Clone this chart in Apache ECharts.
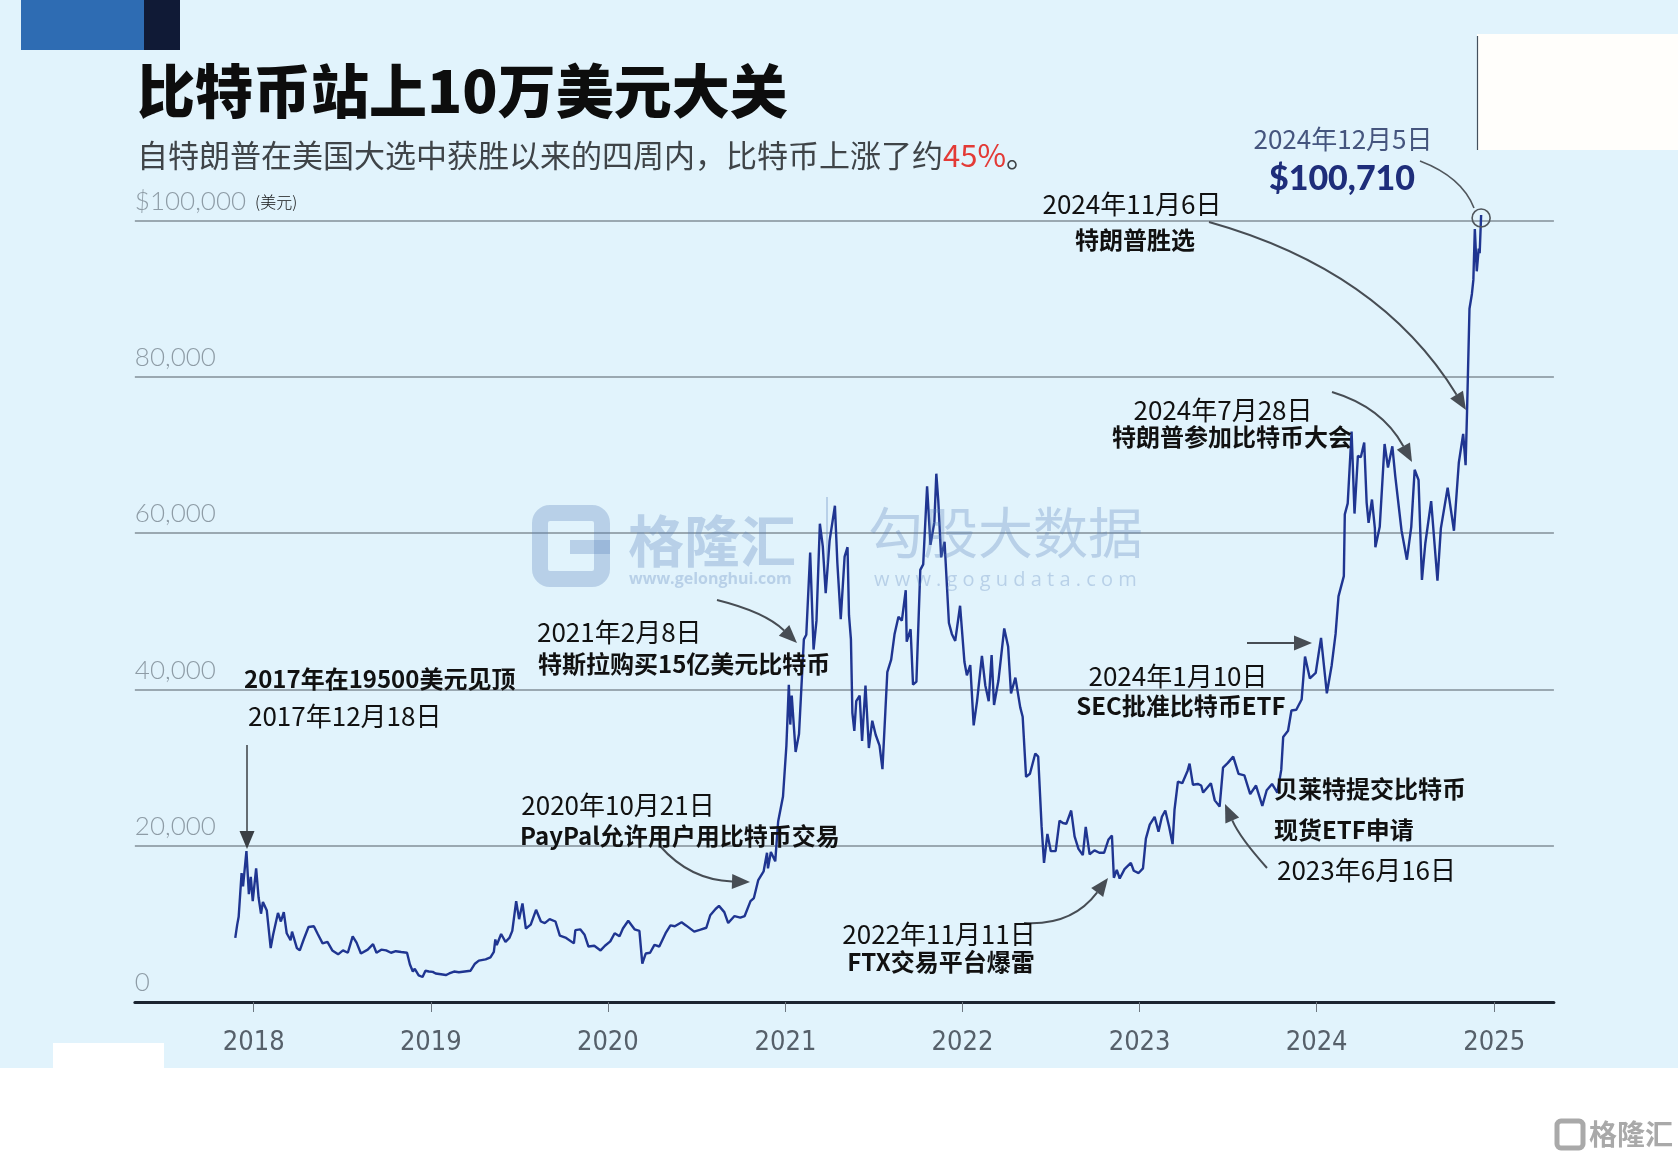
<!DOCTYPE html>
<html><head><meta charset="utf-8">
<script src="https://cdn.jsdelivr.net/npm/echarts@6/dist/echarts.min.js"></script>
<style>html,body{margin:0;padding:0;background:#fff}#c{width:1678px;height:1162px}</style>
</head><body><div id="c"></div><script>
// ---- data ----
const dates = [
'2017-11-24','2017-11-28','2017-12-01','2017-12-07','2017-12-10','2017-12-17','2017-12-22','2017-12-26','2017-12-30',
'2018-01-06','2018-01-11','2018-01-16','2018-01-20','2018-01-28','2018-02-05','2018-02-10','2018-02-20','2018-02-26','2018-03-04','2018-03-10','2018-03-18','2018-03-21','2018-03-31','2018-04-06','2018-04-14','2018-04-24','2018-05-05','2018-05-13','2018-05-23','2018-06-02','2018-06-12','2018-06-24','2018-07-04','2018-07-14','2018-07-24','2018-08-01','2018-08-10','2018-08-14','2018-08-24','2018-09-04','2018-09-11','2018-09-21','2018-10-01','2018-10-11','2018-10-21','2018-11-01','2018-11-13','2018-11-19','2018-11-25','2018-11-29','2018-12-07','2018-12-15','2018-12-21','2018-12-28',
'2019-01-05','2019-01-11','2019-01-22','2019-02-01','2019-02-08','2019-02-18','2019-02-28','2019-03-12','2019-03-24','2019-04-02','2019-04-10','2019-04-24','2019-05-04','2019-05-11','2019-05-14','2019-05-17','2019-05-26','2019-06-04','2019-06-12','2019-06-18','2019-06-26','2019-07-02','2019-07-09','2019-07-16','2019-07-26','2019-08-06','2019-08-16','2019-08-24','2019-09-03','2019-09-15','2019-09-24','2019-10-07','2019-10-23','2019-10-26','2019-11-05','2019-11-14','2019-11-22','2019-12-04','2019-12-17','2019-12-26',
'2020-01-06','2020-01-15','2020-01-25','2020-02-01','2020-02-12','2020-02-25','2020-03-06','2020-03-12','2020-03-19','2020-03-28','2020-04-06','2020-04-16','2020-04-29','2020-05-09','2020-05-18','2020-06-01','2020-06-10','2020-06-27','2020-07-10','2020-07-22','2020-07-30','2020-08-10','2020-08-17','2020-08-28','2020-09-05','2020-09-18','2020-09-30','2020-10-09','2020-10-21','2020-10-28','2020-11-06','2020-11-17','2020-11-24','2020-11-26','2020-12-02','2020-12-11','2020-12-17','2020-12-27',
'2021-01-03','2021-01-08','2021-01-11','2021-01-14','2021-01-22','2021-01-29','2021-02-08','2021-02-13','2021-02-21','2021-02-28','2021-03-06','2021-03-13','2021-03-19','2021-03-25','2021-04-02','2021-04-13','2021-04-18','2021-04-25','2021-05-03','2021-05-09','2021-05-12','2021-05-16','2021-05-19','2021-05-23','2021-05-27','2021-06-03','2021-06-08','2021-06-15','2021-06-22','2021-06-29','2021-07-06','2021-07-14','2021-07-20','2021-07-26','2021-07-30','2021-08-07','2021-08-14','2021-08-22','2021-08-29','2021-09-06','2021-09-08','2021-09-16','2021-09-21','2021-09-28','2021-10-06','2021-10-12','2021-10-20','2021-10-27','2021-11-04','2021-11-08','2021-11-12','2021-11-18','2021-11-25','2021-12-04','2021-12-10','2021-12-17','2021-12-27',
'2022-01-05','2022-01-10','2022-01-17','2022-01-24','2022-01-31','2022-02-10','2022-02-17','2022-02-24','2022-03-02','2022-03-07','2022-03-16','2022-03-28','2022-04-05','2022-04-11','2022-04-20','2022-04-30','2022-05-05','2022-05-12','2022-05-20','2022-05-31','2022-06-06','2022-06-13','2022-06-18','2022-06-25','2022-07-02','2022-07-12','2022-07-20','2022-07-27','2022-08-03','2022-08-13','2022-08-20','2022-08-28','2022-09-06','2022-09-12','2022-09-20','2022-09-30','2022-10-10','2022-10-20','2022-10-29','2022-11-05','2022-11-09','2022-11-15','2022-11-21','2022-12-01','2022-12-14','2022-12-20','2022-12-30',
'2023-01-08','2023-01-14','2023-01-22','2023-02-01','2023-02-09','2023-02-16','2023-02-23','2023-03-03','2023-03-10','2023-03-14','2023-03-21','2023-03-30','2023-04-10','2023-04-14','2023-04-21','2023-05-01','2023-05-08','2023-05-12','2023-05-28','2023-06-05','2023-06-15','2023-06-22','2023-07-02','2023-07-13','2023-07-24','2023-08-05','2023-08-17','2023-08-29','2023-09-11','2023-09-20','2023-10-01','2023-10-12','2023-10-20','2023-10-24','2023-11-03','2023-11-10','2023-11-20','2023-12-01','2023-12-08','2023-12-18','2023-12-30',
'2024-01-10','2024-01-22','2024-02-01','2024-02-09','2024-02-15','2024-02-26','2024-02-28','2024-03-05','2024-03-13','2024-03-19','2024-03-26','2024-04-01','2024-04-08','2024-04-13','2024-04-17','2024-04-24','2024-04-30','2024-05-01','2024-05-10','2024-05-20','2024-05-27','2024-06-05','2024-06-11','2024-06-24','2024-07-05','2024-07-14','2024-07-21','2024-07-29','2024-08-05','2024-08-12','2024-08-24','2024-09-06','2024-09-13','2024-09-27','2024-10-10','2024-10-20','2024-10-29','2024-11-03','2024-11-06','2024-11-11','2024-11-16','2024-11-19','2024-11-22','2024-11-26','2024-11-30','2024-12-02','2024-12-05'
];
const prices = [
8200,9900,10900,16500,14800,19300,13800,16000,12900,
17100,13400,11300,12800,11700,6900,8600,11400,10300,11500,8800,7900,9000,6900,6600,8000,9600,9700,8700,7500,7700,6600,6100,6600,6300,8400,7600,6200,6200,6700,7400,6300,6700,6600,6300,6500,6400,6300,4800,3900,4250,3400,3200,4000,3900,
3850,3650,3550,3450,3650,3900,3800,3900,4000,4900,5300,5450,5700,6400,8000,7300,8700,7700,8200,9100,12900,10600,12600,9400,9900,11800,10300,10100,10600,10300,8500,8200,7500,9200,9300,8600,7100,7200,6600,7200,
7750,8800,8400,9400,10400,9300,9100,4900,6200,6300,7300,7100,8800,9800,9700,10200,9800,9000,9250,9500,11100,11900,12300,11500,10100,11000,10800,11000,12900,13300,15600,16700,19100,17100,19200,18000,23100,26300,
32800,40600,35500,39200,32000,34300,46400,47000,57500,45100,48800,61200,58300,52300,59000,63500,56200,49000,57000,58200,49500,46400,37000,34700,38500,39200,33400,40500,32500,36000,34200,32800,29800,37200,42200,43800,47100,49300,48800,52700,46100,47700,40600,41000,55300,56000,66000,58500,61400,67600,64200,56900,58900,48500,47100,46200,50700,
43500,41800,43100,35400,38500,44300,40500,38500,44400,38000,41100,47800,45500,39500,41500,37700,36500,28800,29200,31800,31400,22500,17800,21500,19300,19300,23200,22900,22800,24500,21200,19600,18800,22400,18900,19400,19100,19100,20800,21300,15900,16900,15800,17000,17800,16800,16500,
17100,20900,22700,23700,21800,23700,24500,22400,20200,24600,28200,28000,29600,30500,27800,27900,27700,26800,28000,25800,25000,30000,30600,31400,29200,29000,26600,27700,25100,27100,27900,26800,29700,33900,34700,37300,37400,38700,44200,41400,42100,
46600,39500,43100,47100,51900,54500,62400,63800,73000,62500,69900,69700,71600,63900,61300,64300,60600,58200,60800,71400,68400,71100,67300,60300,56600,60800,68100,66800,54000,58700,64100,53900,60600,65800,60300,69000,72700,68700,75600,88700,90600,92400,98900,93500,96400,95800,100710
];
const yTicks = [0, 20000, 40000, 60000, 80000, 100000];
const yearTicks = [2018, 2019, 2020, 2021, 2022, 2023, 2024, 2025];
const peakDate = '2024-12-05';
const peakValue = 100710;

// ---- chart ----
const CJK = '"Noto Sans CJK SC", sans-serif';
const chart = echarts.init(document.getElementById('c'), null, {renderer: 'canvas'});
const toTs = s => { const p = s.split('-').map(Number); return new Date(p[0], p[1] - 1, p[2]).getTime(); };
const lineData = dates.map((d, i) => [toTs(d), prices[i]]);
const yearTs = yearTicks.map(y => new Date(y, 0, 1).getTime());

function arrow(x1, y1, cx, cy, x2, y2, opt) {
  opt = opt || {};
  const L = opt.L || 18, W = opt.W || 15, color = opt.color || '#474d54', lw = opt.lw || 2;
  let dx = x2 - cx, dy = y2 - cy; const n = Math.hypot(dx, dy); dx /= n; dy /= n;
  const bx = x2 - dx * L, by = y2 - dy * L;
  const px = -dy, py = dx;
  return [{
    type: 'bezierCurve', z: 50, silent: true,
    shape: {x1: x1, y1: y1, x2: bx, y2: by, cpx1: cx, cpy1: cy},
    style: {stroke: color, lineWidth: lw, fill: null}
  }, {
    type: 'polygon', z: 51, silent: true,
    shape: {points: [[x2, y2], [bx + px * W / 2, by + py * W / 2], [bx - px * W / 2, by - py * W / 2]]},
    style: {fill: color}
  }];
}
function txt(x, y, text, font, fill, align) {
  return {type: 'text', x: x, y: y, z: 60, silent: true,
    style: {text: text, font: font, fill: fill || '#111', textAlign: align || 'left', textVerticalAlign: 'middle'}};
}
const REG = '26px ' + CJK, BOLD = 'bold 24px ' + CJK;
const wm = 'rgba(90,130,185,0.30)';

const graphics = [
  {type: 'rect', z: -5, silent: true, shape: {x: 0, y: 1068, width: 1678, height: 94}, style: {fill: '#ffffff'}},
  {type: 'rect', z: -4, silent: true, shape: {x: 53, y: 1043, width: 111, height: 25}, style: {fill: '#ffffff'}},
  {type: 'rect', z: 1, silent: true, shape: {x: 1477, y: 34, width: 201, height: 116}, style: {fill: '#fffefb'}},
  {type: 'line', z: 2, silent: true, shape: {x1: 1477.5, y1: 36, x2: 1477.5, y2: 150}, style: {stroke: '#44505e', lineWidth: 1.2}},
  {type: 'rect', z: 1, silent: true, shape: {x: 21, y: 0, width: 123, height: 50}, style: {fill: '#2e6cb3'}},
  {type: 'rect', z: 1, silent: true, shape: {x: 144, y: 0, width: 36, height: 50}, style: {fill: '#101a36'}},
  txt(137, 91, '比特币站上10万美元大关', '900 58px ' + CJK, '#0d0d0d'),
  {type: 'text', x: 137, y: 155, z: 60, silent: true,
    style: {text: '自特朗普在美国大选中获胜以来的四周内，比特币上涨了约{r|45%}。', font: '31px ' + CJK, fill: '#3f4448',
      textVerticalAlign: 'middle', rich: {r: {fill: '#e33a36', font: '31px ' + CJK}}}},
  {type: 'rect', z: 40, silent: true, shape: {x: 540, y: 513, width: 62, height: 66, r: 10}, style: {stroke: wm, lineWidth: 16, fill: null}},
  {type: 'rect', z: 40, silent: true, shape: {x: 570, y: 540, width: 40, height: 14}, style: {fill: wm}},
  txt(628, 541, '格隆汇', 'bold 56px ' + CJK, wm),
  {type: 'text', x: 629, y: 579, z: 40, silent: true, style: {text: 'www.gelonghui.com', font: 'bold 16px "Open Sans"', fill: wm, textVerticalAlign: 'middle'}},
  {type: 'line', z: 40, silent: true, shape: {x1: 827, y1: 497, x2: 827, y2: 563}, style: {stroke: wm, lineWidth: 2}},
  txt(868, 532, '勾股大数据', '55px ' + CJK, wm),
  {type: 'text', x: 874, y: 580, z: 40, silent: true, style: {text: 'w w w . g o g u d a t a . c o m', font: '20px "Open Sans"', fill: wm, textVerticalAlign: 'middle'}},
  {type: 'rect', z: 40, silent: true, shape: {x: 1557, y: 1121, width: 26, height: 27, r: 4}, style: {stroke: '#a9a9a9', lineWidth: 5, fill: null}},
  txt(1589, 1134, '格隆汇', 'bold 28px ' + CJK, '#a9a9a9'),
  txt(1343, 139, '2024年12月5日', REG, '#45557e', 'center'),
  txt(1342, 179, '$100,710', '900 34px Lato', '#1e2d7a', 'center'),
  txt(1132, 204, '2024年11月6日', REG, '#111', 'center'),
  txt(1135, 240, '特朗普胜选', BOLD, '#111', 'center'),
  txt(1223, 410, '2024年7月28日', REG, '#111', 'center'),
  txt(1232, 437, '特朗普参加比特币大会', BOLD, '#111', 'center'),
  txt(1178, 676, '2024年1月10日', REG, '#111', 'center'),
  txt(1181, 706, 'SEC批准比特币ETF', BOLD, '#111', 'center'),
  txt(1274, 789, '贝莱特提交比特币', BOLD, '#111'),
  txt(1274, 830, '现货ETF申请', BOLD, '#111'),
  txt(1277, 870, '2023年6月16日', REG, '#111'),
  txt(939, 934, '2022年11月11日', REG, '#111', 'center'),
  txt(941, 962, 'FTX交易平台爆雷', BOLD, '#111', 'center'),
  txt(618, 805, '2020年10月21日', REG, '#111', 'center'),
  txt(520, 836, 'PayPal允许用户用比特币交易', BOLD, '#111'),
  txt(537, 632, '2021年2月8日', REG, '#111'),
  txt(538, 664, '特斯拉购买15亿美元比特币', BOLD, '#111'),
  txt(244, 679, '2017年在19500美元见顶', BOLD, '#111'),
  txt(248, 716, '2017年12月18日', REG, '#111'),
  {type: 'bezierCurve', z: 50, silent: true, shape: {x1: 1420, y1: 161, x2: 1474, y2: 208, cpx1: 1462, cpy1: 177}, style: {stroke: '#50565c', lineWidth: 1.6, fill: null}}
].concat(
  arrow(1209, 222, 1380, 270, 1466, 410),
  arrow(1332, 392, 1382, 407, 1412, 462),
  arrow(1247, 643, 1280, 643, 1312, 643),
  arrow(1267, 868, 1240, 838, 1225, 804),
  arrow(1024, 923, 1072, 926, 1108, 878),
  arrow(660, 846, 690, 880, 750, 882),
  arrow(717, 600, 765, 612, 797, 643),
  arrow(247, 745, 247, 800, 247, 849, {lw: 1.5, color: '#3a3f44'})
);

const option = {
  backgroundColor: '#e1f3fc',
  animation: false,
  grid: {left: 134.85, right: 124.1, top: 220.5, bottom: 160, containLabel: false},
  xAxis: {
    type: 'value',
    min: new Date(2017, 4, 1).getTime(),
    max: new Date(2025, 4, 4).getTime(),
    axisLine: {show: true, lineStyle: {color: '#1b2430', width: 3}},
    axisTick: {show: true, length: 10, customValues: yearTs, lineStyle: {color: '#6d7780', width: 1}},
    axisLabel: {customValues: yearTs, margin: 27, color: '#56606a', fontSize: 27, fontFamily: '"Liberation Sans Narrow", "DejaVu Sans Condensed", Roboto, sans-serif',
      formatter: v => String(new Date(v).getFullYear())},
    splitLine: {show: false}
  },
  yAxis: {
    type: 'value', min: yTicks[0], max: yTicks[yTicks.length - 1], interval: 20000,
    axisLine: {show: false}, axisTick: {show: false},
    splitLine: {show: true, lineStyle: {color: '#9aa8b1', width: 2}},
    axisLabel: {
      inside: true, margin: 0, align: 'left', verticalAlign: 'bottom', padding: [0, 0, 6, 0],
      showMinLabel: true, showMaxLabel: true,
      color: '#8e9ca6', fontSize: 26, fontFamily: 'Lato, sans-serif', fontWeight: 300,
      formatter: v => v === 100000 ? '$100,000{u|(美元)}' : (v === 0 ? '0' : v.toLocaleString('en-US')),
      rich: {u: {fontSize: 16, color: '#111', fontFamily: CJK, padding: [0, 0, 0, 9]}}
    }
  },
  series: [{
    type: 'line', data: lineData, showSymbol: false, clip: false, z: 10,
    lineStyle: {color: '#1f3591', width: 2.4}, emphasis: {disabled: true}
  }],
  graphic: {elements: graphics}
};
chart.setOption(option);
// circle around the 2024-12-05 peak, placed through the chart's own scales
const pk = chart.convertToPixel({seriesIndex: 0}, [toTs(peakDate), peakValue]);
chart.setOption({graphic: {elements: graphics.concat([{
  type: 'circle', z: 55, silent: true, shape: {cx: pk[0], cy: pk[1] + 3, r: 9},
  style: {fill: null, stroke: '#50565c', lineWidth: 1.6}
}])}});
</script></body></html>
